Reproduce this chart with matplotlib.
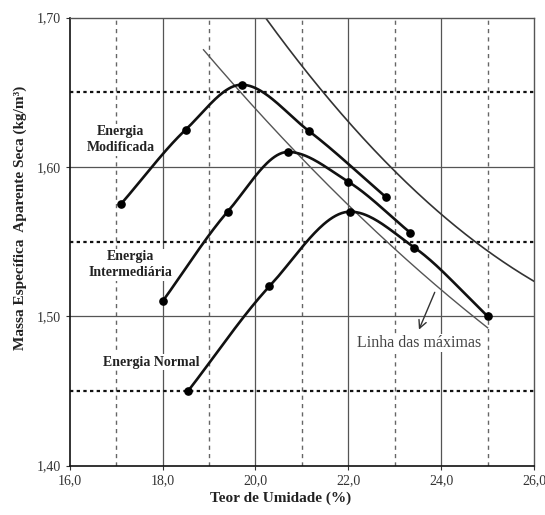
import numpy as np
import matplotlib
matplotlib.use("Agg")
import matplotlib.pyplot as plt

# ---------------- data ----------------
mod_x = [17.1, 18.5, 19.7, 21.15, 22.8]
mod_y = [1.575, 1.625, 1.655, 1.624, 1.580]
int_x = [18.0, 19.4, 20.7, 22.0, 23.33]
int_y = [1.510, 1.570, 1.610, 1.590, 1.556]
nor_x = [18.55, 20.3, 22.04, 23.42, 25.0]
nor_y = [1.450, 1.520, 1.570, 1.546, 1.500]
max_x = [18.88, 19.7, 20.77, 22.23, 23.5, 25.0]
max_y = [1.678, 1.650, 1.613, 1.5665, 1.532, 1.492]
sat_x = [20.23, 21.44, 22.23, 23.0, 24.0, 24.72, 26.0]
sat_y = [1.700, 1.650, 1.620, 1.599, 1.569, 1.550, 1.523]
arrow_from = (23.86, 1.516)
arrow_to = (23.52, 1.491)

x_ticks = [16.0, 18.0, 20.0, 22.0, 24.0, 26.0]
x_labels = ["16,0", "18,0", "20,0", "22,0", "24,0", "26,0"]
y_ticks = [1.40, 1.50, 1.60, 1.70]
y_labels = ["1,40", "1,50", "1,60", "1,70"]
solid_x = [18, 20, 22, 24]
dashed_x = [17, 19, 21, 23, 25]
solid_y = [1.50, 1.60]
dotted_y = [1.45, 1.55, 1.65]


def pchip(x, y, n=200):
    x = np.asarray(x, float)
    y = np.asarray(y, float)
    h = np.diff(x)
    d = np.diff(y) / h
    m = np.zeros(len(x))
    for k in range(1, len(x) - 1):
        if d[k - 1] * d[k] <= 0:
            m[k] = 0.0
        else:
            w1 = 2 * h[k] + h[k - 1]
            w2 = h[k] + 2 * h[k - 1]
            m[k] = (w1 + w2) / (w1 / d[k - 1] + w2 / d[k])
    m[0] = d[0]
    m[-1] = d[-1]
    xs = np.linspace(x[0], x[-1], n)
    idx = np.clip(np.searchsorted(x, xs) - 1, 0, len(x) - 2)
    t = (xs - x[idx]) / h[idx]
    h00 = 2 * t**3 - 3 * t**2 + 1
    h10 = t**3 - 2 * t**2 + t
    h01 = -2 * t**3 + 3 * t**2
    h11 = t**3 - t**2
    ys = h00 * y[idx] + h10 * h[idx] * m[idx] + h01 * y[idx + 1] + h11 * h[idx] * m[idx + 1]
    return xs, ys


def smooth_fit(x, y, deg=2, n=200):
    c = np.polyfit(x, y, deg)
    xs = np.linspace(min(x), max(x), n)
    return xs, np.polyval(c, xs)


serif = ["Liberation Serif", "DejaVu Serif"]
plt.rcParams['font.family'] = serif

fig = plt.figure(figsize=(5.45, 5.15), dpi=100)
ax = fig.add_axes([0.128, 0.096, 0.852, 0.870])
ax.set_xlim(16, 26)
ax.set_ylim(1.40, 1.70)

for xv in solid_x:
    ax.axvline(xv, color="#555555", lw=0.9, zorder=1)
for xv in dashed_x:
    ax.axvline(xv, color="#666666", lw=1.0, ls=(0, (3, 3)), zorder=1)
for yv in solid_y:
    ax.axhline(yv, color="#555555", lw=0.9, zorder=1)
for yv in dotted_y:
    ax.axhline(yv, color="#111111", lw=1.6, ls=(0, (1.5, 1.5)), zorder=1)

xs, ys = smooth_fit(sat_x, sat_y, 2)
ax.plot(xs, ys, color="#333333", lw=1.2, zorder=2)
xs, ys = smooth_fit(max_x, max_y, 2)
ax.plot(xs, ys, color="#555555", lw=1.0, zorder=2)

for cx, cy in [(mod_x, mod_y), (int_x, int_y), (nor_x, nor_y)]:
    xs, ys = pchip(cx, cy)
    ax.plot(xs, ys, color="#111111", lw=1.9, zorder=3)
    ax.plot(cx, cy, 'o', color="black", ms=5.2, zorder=4)

ax.annotate("", xy=arrow_to, xytext=arrow_from,
            arrowprops=dict(arrowstyle="->", color="#333333", lw=1.0,
                            mutation_scale=14, shrinkA=0, shrinkB=0), zorder=5)

bb = dict(facecolor="white", edgecolor="none", pad=1.0)
ax.text(17.1, 1.618, "Energia\nModificada", ha="center", va="center",
        fontsize=10, fontweight="bold", linespacing=1.3, bbox=bb, zorder=6, color="#222222")
ax.text(17.3, 1.5343, "Energia\nIntermediária", ha="center", va="center",
        fontsize=10, fontweight="bold", linespacing=1.3, bbox=bb, zorder=6, color="#222222")
ax.text(17.75, 1.4693, "Energia Normal", ha="center", va="center",
        fontsize=10, fontweight="bold", bbox=bb, zorder=6, color="#222222")
ax.text(23.52, 1.482, "Linha das máximas", ha="center", va="center",
        fontsize=11.5, bbox=dict(facecolor="white", edgecolor="none", pad=0.5),
        zorder=6, color="#444444")

ax.set_xticks(x_ticks)
ax.set_xticklabels(x_labels)
ax.set_yticks(y_ticks)
ax.set_yticklabels(y_labels)
ax.tick_params(axis="both", labelsize=10, length=3, width=0.8, colors="#333333")

for s in ["left", "bottom"]:
    ax.spines[s].set_color("#111111")
    ax.spines[s].set_linewidth(1.2)
for s in ["top", "right"]:
    ax.spines[s].set_color("#555555")
    ax.spines[s].set_linewidth(1.0)

ax.set_xlabel("Teor de Umidade (%)", fontsize=11, fontweight="bold", color="#222222")
ax.set_ylabel("Massa Específica  Aparente Seca (kg/m³)", fontsize=11, fontweight="bold",
              color="#222222")
ax.xaxis.set_label_coords(0.455, -0.058)
ax.yaxis.set_label_coords(-0.092, 0.552)

fig.savefig("out.png", dpi=100, facecolor="white")
